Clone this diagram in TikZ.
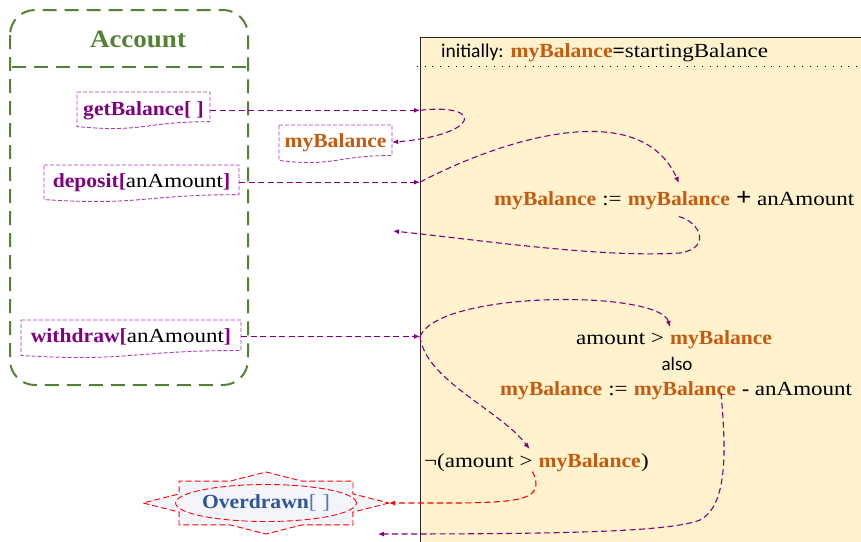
\documentclass[tikz,border=0pt]{standalone}
\usepackage{fontspec}
\setmainfont{Liberation Serif}[UprightFeatures={FakeStretch=1.15},BoldFeatures={FakeStretch=1.08}]
\newfontfamily\sansf{Carlito}
\usetikzlibrary{arrows.meta,calc,shapes.geometric}
\definecolor{acgreen}{HTML}{548235}
\definecolor{mpurple}{HTML}{800080}
\definecolor{boxpurple}{HTML}{A83CB8}
\definecolor{orng}{HTML}{C55A11}
\definecolor{panelfill}{HTML}{FFF2CC}
\definecolor{ovblue}{HTML}{2F5597}
\definecolor{ovlight}{HTML}{4F76C0}
\definecolor{starfill}{HTML}{F3F5FA}
\newcommand\mybal{\textbf{\textcolor{orng}{myBalance}}}
\newcommand\docshape[4]{%
  \draw[docline] (#1,#3) -- (#2,#3) -- (#2,{#3+0.802*#4})
    .. controls ({(#1+#2)/2},{#3+0.802*#4}) and ({(#1+#2)/2},{#3+1.107*#4}) ..
    (#1,{#3+0.934*#4}) -- cycle;}
\begin{document}
\begin{tikzpicture}[x=1pt,y=-1pt,
  font=\fontsize{20}{24}\selectfont,
  conn/.style={draw=mpurple, line width=1.1pt, dash pattern=on 6pt off 3.5pt,
     -{Latex[length=6pt,width=5pt]}},
  redconn/.style={conn, draw=red},
  docline/.style={draw=boxpurple, fill=white, line width=0.9pt, dash pattern=on 4pt off 2pt},
  doctext/.style={inner sep=0pt, anchor=base},
  eqp/.style={inner sep=0pt, anchor=base west},
  greendash/.style={draw=acgreen, line width=2pt, dash pattern=on 14pt off 8pt},
  starline/.style={draw=red, line width=0.9pt, dash pattern=on 6pt off 3pt, fill=starfill},
  panelbox/.style={draw=black!85, fill=panelfill, line width=1.3pt, inner sep=0pt}]
\useasboundingbox (0,0) rectangle (861,541);
\clip (0,0) rectangle (861,541);

% right panel
\node[panelbox, anchor=north west, minimum width=470, minimum height=530] (panel) at (420,37) {};
\draw[black, line width=1pt, dash pattern=on 1pt off 6.7pt] (417,66) -- (856,66);
\node[eqp] (hdr) at (441,57) {{\sansf\fontsize{19.5}{22}\selectfont initially:}\hspace{0.35em}\mybal\textbf{=}startingBalance};

% Account class box
\draw[greendash, rounded corners=25pt] (10,10) rectangle (248,385);
\draw[greendash] (12,67) -- (248,67);
\node[doctext, text=acgreen, font=\fontsize{25}{28}\selectfont\bfseries] (acc) at (138,47) {Account};

% document boxes
\docshape{77}{210}{92}{37}
\node[doctext, minimum width=133] (gb) at (143.5,115) {\textbf{\textcolor{mpurple}{getBalance[ ]}}};
\docshape{279}{392}{125}{38}
\node[doctext, minimum width=113] (mb) at (335.5,147) {\mybal};
\docshape{44}{239}{165}{37}
\node[doctext, minimum width=195] (dep) at (141.5,187) {\textbf{\textcolor{mpurple}{deposit[}}anAmount\textbf{\textcolor{mpurple}{]}}};
\docshape{21}{241}{320}{38}
\node[doctext, minimum width=220] (wd) at (131,342) {\textbf{\textcolor{mpurple}{withdraw[}}anAmount\textbf{\textcolor{mpurple}{]}}};

% equations
\node[eqp] (e1a) at (494,205) {\mybal};
\node[eqp] (e1b) at (e1a.base east) {\ :=\ \null};
\node[eqp] (e1c) at (e1b.base east) {\mybal};
\node[eqp] (e1d) at (e1c.base east) {\ {\fontsize{25}{24}\selectfont\textbf{+}}\ anAmount};

\node[eqp] (e2a) at (576,344) {amount >\ \null};
\node[eqp] (e2b) at (e2a.base east) {\mybal};
\node[anchor=base, inner sep=0pt, font=\sansf\fontsize{19}{21}\selectfont] (also) at (677,370) {also};

\node[eqp] (e3a) at (500,395) {\mybal};
\node[eqp] (e3b) at (e3a.base east) {\ :=\ \null};
\node[eqp] (e3c) at (e3b.base east) {\mybal};
\node[eqp] (e3d) at (e3c.base east) {\ \textbf{-}\ anAmount};

\node[eqp] (e4a) at (424,467) {¬(amount >\ \null};
\node[eqp] (e4b) at (e4a.base east) {\mybal};
\node[eqp] (e4c) at (e4b.base east) {)};

% Overdrawn seal
\begin{scope}[shift={(266,503)}]
\draw[starline] (123,0) -- (86.9,9.1) -- (87,21.9) -- (36,21.9) -- (0,31) -- (-36,21.9)
  -- (-87,21.9) -- (-86.9,9.1) -- (-123,0) -- (-86.9,-9.1) -- (-87,-21.9) -- (-36,-21.9)
  -- (0,-31) -- (36,-21.9) -- (87,-21.9) -- (86.9,-9.1) -- cycle;
\end{scope}
\coordinate (ovtip) at (389,503);
\node[ellipse, draw=red, line width=0.9pt, dash pattern=on 6pt off 3pt, fill=starfill,
  minimum width=148, minimum height=37, inner sep=0pt] (ov) at (266,503)
  {\textbf{\textcolor{ovblue}{Overdrawn}}\textcolor{ovlight}{[ ]}};

% panel entry points
\coordinate (pGB) at (gb.east -| panel.west);
\coordinate (pDep) at (dep.east -| panel.west);
\coordinate (pWd) at (wd.east -| panel.west);
\coordinate (pRet1) at (393,231);
\coordinate (pRet2) at (378,534);

% connectors
\draw[conn] (gb.east) -- (pGB);
\draw[conn] (pGB) .. controls (485,103) and (480,135) .. (mb.east);
\draw[conn] (dep.east) -- (pDep);
\draw[conn] (pDep) .. controls (500,140) and (640,95) .. ([yshift=8pt]e1c.north);
\draw[conn] ([yshift=-7pt]e1c.south) .. controls (700,222) and (712,248) .. (680,253)
   .. controls (600,258) and (480,240) .. (pRet1);
\draw[conn] (wd.east) -- (pWd);
\draw[conn] (pWd) .. controls (440,290) and (660,290) .. ([yshift=3pt]e2b.north west);
\draw[conn] (pWd) .. controls (425,380) and (500,410) .. ([xshift=-9pt,yshift=4pt]e4b.north west);
\draw[redconn] ([xshift=-6pt]e4b.south west) .. controls (546,500) and (520,502) .. (460,503) -- (ovtip);
\draw[conn] ([xshift=-15pt,yshift=-3pt]e3c.east) .. controls (726,450) and (728,505) .. (700,520)
   .. controls (670,532) and (560,534) .. (pRet2);
\end{tikzpicture}
\end{document}
